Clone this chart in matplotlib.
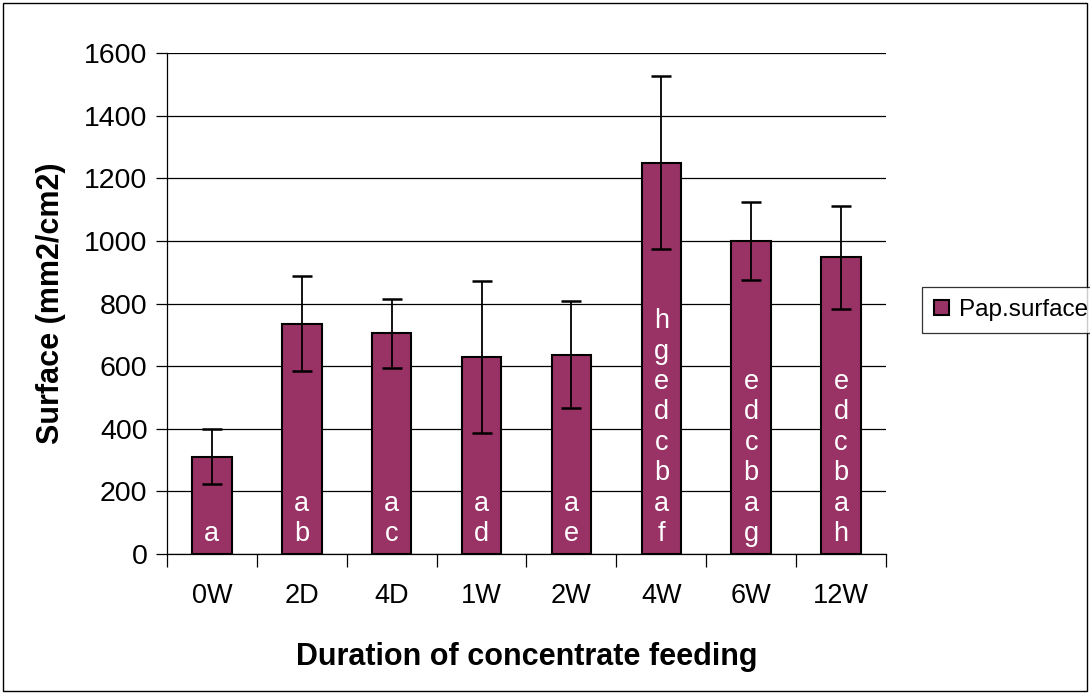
import numpy as np
import matplotlib.pyplot as plt
from matplotlib.patches import Rectangle

plt.rcParams['font.family'] = ['Liberation Sans', 'DejaVu Sans']

# Data
durations = ["0W", "2D", "4D", "1W", "2W", "4W", "6W", "12W"]
surface = [310, 735, 705, 630, 637, 1250, 1000, 948]
surface_err = [88, 152, 110, 243, 170, 276, 125, 165]
letters = ["a", "a\nb", "a\nc", "a\nd", "a\ne",
           "h\ng\ne\nd\nc\nb\na\nf", "e\nd\nc\nb\na\ng", "e\nd\nc\nb\na\nh"]
y_ticks = [0, 200, 400, 600, 800, 1000, 1200, 1400, 1600]

fig = plt.figure(figsize=(10.9, 6.95), dpi=100)
ax = fig.add_axes([0.1532, 0.2029, 0.6596, 0.7208])

x = np.arange(len(durations))
ax.bar(x, surface, width=0.44, color="#993366", edgecolor="black", linewidth=1.5,
       label="Pap.surface", zorder=3)
ax.errorbar(x, surface, yerr=surface_err, fmt="none", ecolor="black",
            elinewidth=1.3, capsize=7, capthick=1.8, zorder=4)

# significance letters inside the bars
for xi, txt in zip(x, letters):
    ax.text(xi, 22, txt, ha="center", va="bottom", color="white",
            fontsize=19.5, linespacing=1.22, zorder=5)

ax.set_xlim(-0.5, len(durations) - 0.5)
ax.set_ylim(0, 1600)
ax.set_yticks(y_ticks)
ax.yaxis.grid(True, color="black", linewidth=0.9, zorder=0)
ax.set_axisbelow(True)

# x ticks sit on category boundaries, labels in the middle
ax.set_xticks(np.arange(-0.5, len(durations), 1.0))
ax.set_xticklabels([])
ax.set_xticks(x, minor=True)
ax.set_xticklabels(durations, minor=True, fontsize=19.5)
ax.tick_params(axis="x", which="minor", length=0, pad=21)
ax.tick_params(axis="x", which="major", length=9, width=0.9, direction="out")
ax.tick_params(axis="y", length=8, width=0.9, direction="out", labelsize=20.5, pad=6)

for side in ["top", "right"]:
    ax.spines[side].set_visible(False)
ax.spines["left"].set_linewidth(0.9)
ax.spines["bottom"].set_linewidth(0.9)

ax.set_xlabel("Duration of concentrate feeding", fontsize=22, fontweight="bold", labelpad=24)
ax.set_ylabel("Surface (mm2/cm2)", fontsize=22, fontweight="bold", labelpad=13)

leg = fig.legend(loc="center left", bbox_to_anchor=(0.835, 0.554), fontsize=17.5,
                 frameon=True, fancybox=False, edgecolor="black", handlelength=0.6,
                 handleheight=0.6, handletextpad=0.4, borderpad=0.5)
leg.get_frame().set_linewidth(0.9)

# outer frame of the chart area
fig.patches.append(Rectangle((0.003, 0.006), 0.994, 0.99, transform=fig.transFigure,
                             fill=False, edgecolor="black", linewidth=1.0))

plt.savefig("out.png", dpi=100)
